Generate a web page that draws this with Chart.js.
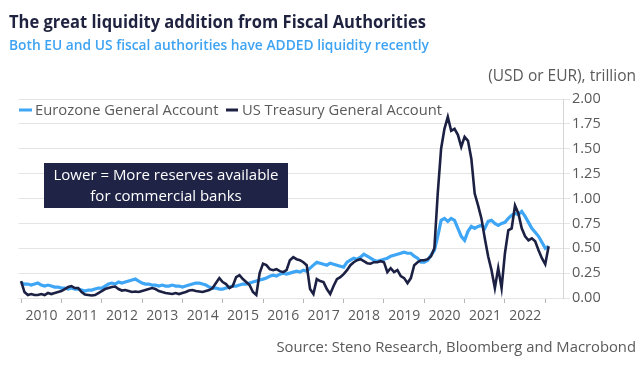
<!DOCTYPE html>
<html>
<head>
<meta charset="utf-8">
<script src="https://cdn.jsdelivr.net/npm/chart.js@4.4.0/dist/chart.umd.min.js"></script>
<style>
  html, body { margin: 0; padding: 0; background: #fff; }
  #wrap { position: relative; width: 642px; height: 367px; }
</style>
</head>
<body>
<div id="wrap"><canvas id="chart" width="642" height="367"></canvas></div>
<script>
// monthly readings, Jan 2010 .. Feb 2023, in trillions
const startYear = 2010;
const eurozone = [
  0.15, 0.14, 0.14, 0.13, 0.14, 0.15, 0.13, 0.12, 0.13, 0.12, 0.11, 0.11, // 2010
  0.10, 0.10, 0.09, 0.10, 0.09, 0.09, 0.08, 0.07, 0.08, 0.08, 0.09, 0.10, // 2011
  0.10, 0.12, 0.14, 0.15, 0.14, 0.16, 0.15, 0.16, 0.17, 0.18, 0.19, 0.17, // 2012
  0.15, 0.14, 0.14, 0.13, 0.13, 0.12, 0.13, 0.12, 0.12, 0.13, 0.12, 0.12, // 2013
  0.11, 0.12, 0.13, 0.14, 0.15, 0.15, 0.14, 0.13, 0.11, 0.10, 0.10, 0.09, // 2014
  0.09, 0.10, 0.11, 0.12, 0.12, 0.13, 0.14, 0.14, 0.15, 0.16, 0.17, 0.18, // 2015
  0.19, 0.20, 0.22, 0.23, 0.22, 0.24, 0.25, 0.24, 0.25, 0.26, 0.27, 0.26, // 2016
  0.28, 0.27, 0.30, 0.33, 0.36, 0.35, 0.34, 0.33, 0.35, 0.34, 0.33, 0.32, // 2017
  0.31, 0.36, 0.38, 0.40, 0.39, 0.41, 0.44, 0.42, 0.40, 0.38, 0.37, 0.38, // 2018
  0.39, 0.40, 0.42, 0.43, 0.44, 0.45, 0.46, 0.45, 0.45, 0.42, 0.40, 0.36, // 2019
  0.36, 0.38, 0.43, 0.48, 0.62, 0.78, 0.80, 0.77, 0.80, 0.78, 0.70, 0.62, // 2020
  0.58, 0.67, 0.72, 0.70, 0.72, 0.73, 0.70, 0.77, 0.78, 0.75, 0.73, 0.75, // 2021
  0.76, 0.80, 0.83, 0.85, 0.84, 0.87, 0.82, 0.76, 0.70, 0.66, 0.62, 0.56, // 2022
  0.50, 0.52                                                              // 2023
];
const usTreasury = [
  0.17, 0.06, 0.03, 0.04, 0.03, 0.03, 0.04, 0.03, 0.05, 0.04, 0.05, 0.06, // 2010
  0.07, 0.09, 0.11, 0.12, 0.10, 0.10, 0.06, 0.035, 0.03, 0.025, 0.03, 0.05, // 2011
  0.07, 0.09, 0.10, 0.11, 0.115, 0.09, 0.075, 0.08, 0.07, 0.06, 0.065, 0.06, // 2012
  0.07, 0.08, 0.09, 0.10, 0.09, 0.07, 0.06, 0.05, 0.045, 0.04, 0.05, 0.04, // 2013
  0.05, 0.06, 0.075, 0.08, 0.07, 0.065, 0.06, 0.07, 0.08, 0.10, 0.15, 0.20, // 2014
  0.16, 0.14, 0.10, 0.12, 0.21, 0.23, 0.19, 0.16, 0.13, 0.06, 0.03, 0.25, // 2015
  0.345, 0.33, 0.29, 0.28, 0.29, 0.27, 0.26, 0.28, 0.38, 0.41, 0.39, 0.38, // 2016
  0.36, 0.33, 0.09, 0.04, 0.19, 0.17, 0.16, 0.09, 0.04, 0.12, 0.19, 0.21, // 2017
  0.24, 0.28, 0.33, 0.36, 0.38, 0.39, 0.37, 0.35, 0.345, 0.36, 0.36, 0.37, // 2018
  0.36, 0.26, 0.30, 0.26, 0.28, 0.22, 0.20, 0.15, 0.20, 0.33, 0.36, 0.38, // 2019
  0.38, 0.39, 0.42, 0.50, 1.05, 1.50, 1.70, 1.82, 1.68, 1.70, 1.64, 1.52, // 2020
  1.62, 1.58, 1.40, 1.05, 0.93, 0.80, 0.60, 0.42, 0.28, 0.10, 0.30, 0.10, // 2021
  0.45, 0.68, 0.70, 0.93, 0.85, 0.70, 0.62, 0.58, 0.60, 0.57, 0.48, 0.40, // 2022
  0.34, 0.52                                                              // 2023
];
const yearTicks = [2010, 2011, 2012, 2013, 2014, 2015, 2016, 2017, 2018, 2019, 2020, 2021, 2022, 2023];
const yTicks = [0, 0.25, 0.5, 0.75, 1, 1.25, 1.5, 1.75, 2];

const seriesNames = ['Eurozone General Account', 'US Treasury General Account'];
const titleText = 'The great liquidity addition from Fiscal Authorities';
const subtitleText = 'Both EU and US fiscal authorities have ADDED liquidity recently';
const unitText = '(USD or EUR), trillion';
const sourceText = 'Source: Steno Research, Bloomberg and Macrobond';
const noteLines = ['Lower = More reserves available', 'for commercial banks'];

const lightBlue = '#3ea6f5';
const navy = '#1c2144';
const grey = '#5a5a5a';
const fontFam = '"Segoe UI", "Open Sans", "Noto Sans", sans-serif';

function toPoints(arr) {
    return arr.map((v, i) => ({ x: startYear + i / 12, y: v }));
}

Chart.defaults.font.family = fontFam;
Chart.defaults.color = grey;

// title, legend, note box and source are drawn straight on the canvas
const decorations = {
    id: 'decorations',
    afterDraw(chart) {
        const ctx = chart.ctx;
        ctx.save();
        ctx.textBaseline = 'alphabetic';
        ctx.textAlign = 'left';

        ctx.fillStyle = '#1f2340';
        ctx.font = 'bold 18px ' + fontFam;
        ctx.fillText(titleText, 9, 28, 417);

        ctx.fillStyle = '#3ea3f2';
        ctx.font = '600 14.5px ' + fontFam;
        ctx.fillText(subtitleText, 9, 50, 420);

        ctx.fillStyle = grey;
        ctx.textAlign = 'right';
        ctx.font = '15.5px ' + fontFam;
        ctx.fillText(unitText, 636, 81);
        ctx.font = '14.8px ' + fontFam;
        ctx.fillText(sourceText, 636, 352);

        // legend
        ctx.textAlign = 'left';
        ctx.textBaseline = 'middle';
        ctx.font = '14.8px ' + fontFam;
        ctx.lineWidth = 3;
        ctx.strokeStyle = lightBlue;
        ctx.beginPath(); ctx.moveTo(19, 110); ctx.lineTo(32, 110); ctx.stroke();
        ctx.fillText(seriesNames[0], 35, 111, 185);
        ctx.strokeStyle = navy;
        ctx.beginPath(); ctx.moveTo(226, 110); ctx.lineTo(238, 110); ctx.stroke();
        ctx.fillText(seriesNames[1], 242, 111, 200);

        // note box
        ctx.fillStyle = '#1f2446';
        ctx.fillRect(44, 163, 244, 45);
        ctx.fillStyle = '#ffffff';
        ctx.textAlign = 'center';
        ctx.font = '15px ' + fontFam;
        ctx.fillText(noteLines[0], 166, 176, 228);
        ctx.fillText(noteLines[1], 166, 197);
        ctx.restore();
    }
};

new Chart(document.getElementById('chart'), {
    type: 'line',
    data: {
        datasets: [
            {
                label: seriesNames[0],
                data: toPoints(eurozone),
                borderColor: lightBlue,
                borderWidth: 3.2,
                pointRadius: 0,
                tension: 0,
                order: 1
            },
            {
                label: seriesNames[1],
                data: toPoints(usTreasury),
                borderColor: navy,
                borderWidth: 2.6,
                pointRadius: 0,
                tension: 0,
                order: 0
            }
        ]
    },
    options: {
        responsive: false,
        animation: false,
        layout: { padding: { left: 18, top: 99, right: 0, bottom: 39 } },
        plugins: {
            legend: { display: false },
            tooltip: { enabled: false }
        },
        scales: {
            x: {
                type: 'linear',
                min: 2009.94,
                max: 2023.44,
                afterBuildTicks: scale => { scale.ticks = yearTicks.map(v => ({ value: v })); },
                afterFit: scale => { scale.height = 30; },
                ticks: {
                    autoSkip: false,
                    maxRotation: 0,
                    labelOffset: 20.3,
                    padding: 5,
                    font: { size: 14 },
                    color: grey,
                    callback: v => (v <= 2022 ? String(v) : '')
                },
                grid: { drawOnChartArea: false, drawTicks: true, tickLength: 5, color: '#b5b5b5' },
                border: { display: false }
            },
            y: {
                position: 'right',
                min: 0,
                max: 2,
                afterBuildTicks: scale => { scale.ticks = yTicks.map(v => ({ value: v })); },
                afterFit: scale => { scale.width = 79; },
                ticks: {
                    padding: 2,
                    font: { size: 14.5 },
                    color: grey,
                    callback: v => v.toFixed(2)
                },
                grid: { color: '#e4e4e4', tickLength: 7, drawTicks: true },
                border: { display: true, color: '#d4d4d4' }
            }
        }
    },
    plugins: [decorations]
});
</script>
</body>
</html>
